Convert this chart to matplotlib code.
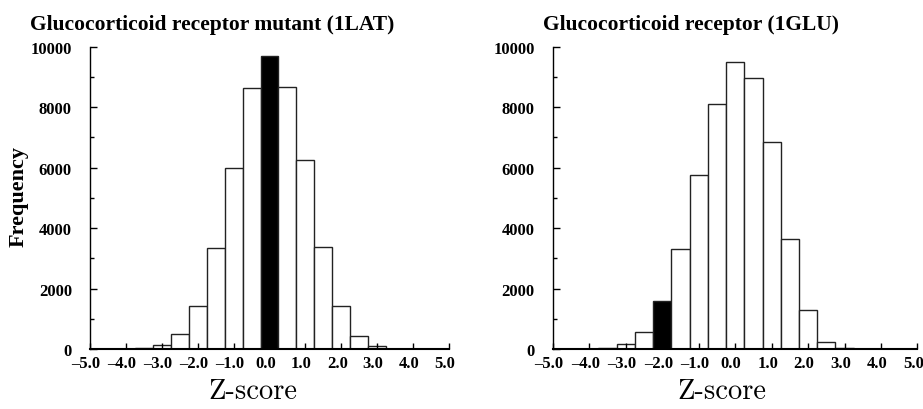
import matplotlib
matplotlib.use("Agg")
import matplotlib.pyplot as plt
from matplotlib.transforms import ScaledTranslation

# bin centres (width 0.5) and counts
centros = [-5.0, -4.5, -4.0, -3.5, -3.0, -2.5, -2.0, -1.5, -1.0, -0.5, 0.0,
           0.5, 1.0, 1.5, 2.0, 2.5, 3.0, 3.5, 4.0, 4.5, 5.0]
frec_1lat = [0, 2, 3, 25, 130, 510, 1420, 3340, 6000, 8640, 9700,
             8680, 6260, 3360, 1420, 430, 90, 15, 5, 3, 0]
frec_1glu = [0, 2, 5, 40, 180, 560, 1600, 3310, 5740, 8100, 9500,
             8950, 6840, 3650, 1300, 250, 25, 5, 2, 1, 0]
marca_1lat = 0.0
marca_1glu = -2.0
titulos = ["Glucocorticoid receptor mutant (1LAT)", "Glucocorticoid receptor (1GLU)"]
xticks = [-5.0, -4.0, -3.0, -2.0, -1.0, 0.0, 1.0, 2.0, 3.0, 4.0, 5.0]
xlabels = ["–5.0", "–4.0", "–3.0", "–2.0", "–1.0", "0.0", "1.0", "2.0", "3.0", "4.0", "5.0"]
yticks = [0, 2000, 4000, 6000, 8000, 10000]

serif_b = {"family": "Liberation Serif", "weight": "bold"}

fig = plt.figure(figsize=(9.23, 4.10), dpi=100)
ax1 = fig.add_axes([0.0975, 0.146, 0.389, 0.738])
ax2 = fig.add_axes([0.599, 0.146, 0.395, 0.738])

# tick labels sit a little left of their ticks in the original
desplazo = ScaledTranslation(-4 / 100, 0, fig.dpi_scale_trans)

for ax, frec, marca in [(ax1, frec_1lat, marca_1lat), (ax2, frec_1glu, marca_1glu)]:
    colores = ["black" if c == marca else "white" for c in centros]
    ax.bar(centros, frec, width=0.5, color=colores, edgecolor="#222222", linewidth=1.0)
    ax.set_xlim(-5.0, 5.0)
    ax.set_ylim(0, 10000)
    ax.spines["top"].set_visible(False)
    ax.spines["right"].set_visible(False)
    ax.spines["bottom"].set_linewidth(1.5)
    ax.spines["left"].set_linewidth(1.0)
    ax.set_xticks(xticks)
    ax.set_xticklabels(xlabels, fontdict=serif_b, fontsize=12)
    ax.set_yticks(yticks)
    ax.set_yticklabels([str(v) for v in yticks], fontdict=serif_b, fontsize=12)
    ax.set_yticks([1000, 3000, 5000, 7000, 9000], minor=True)
    ax.tick_params(axis="x", direction="in", length=4, width=1, pad=4)
    ax.tick_params(axis="y", which="major", direction="in", length=5, width=1, pad=13)
    ax.tick_params(axis="y", which="minor", direction="in", length=3, width=1)
    for lab in ax.get_xticklabels():
        lab.set_transform(lab.get_transform() + desplazo)

fig.text(0.0325, 0.926, titulos[0], ha="left", va="baseline", fontsize=15.5, **serif_b)
fig.text(0.588, 0.926, titulos[1], ha="left", va="baseline", fontsize=15.5, **serif_b)
fig.text(0.02, 0.52, "Frequency", rotation=90, ha="center", va="center", fontsize=16, **serif_b)
fig.text(0.274, 0.026, "Z-score", ha="center", va="baseline", fontsize=20.5, family="cmr10")
fig.text(0.782, 0.026, "Z-score", ha="center", va="baseline", fontsize=20.5, family="cmr10")

fig.savefig("out.png", dpi=100)
